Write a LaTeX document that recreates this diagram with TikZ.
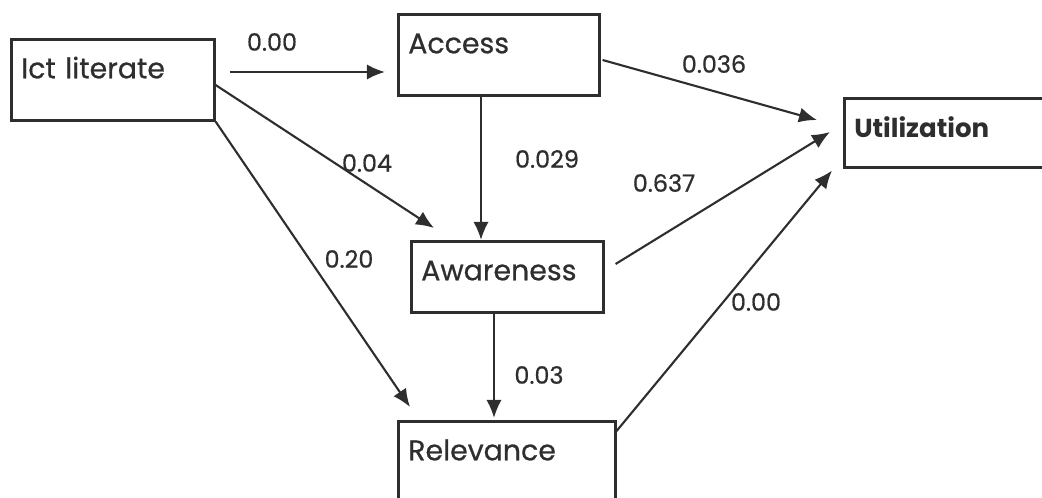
\documentclass[tikz,border=0pt]{standalone}
\usepackage{fontspec}
\setmainfont{Poppins}[FakeBold=0.6]
\newfontfamily\boldface{Poppins Bold}
\usetikzlibrary{arrows.meta,calc}

\tikzset{
  factor/.style={draw, line width=1.8pt, anchor=north west, align=left,
    inner xsep=0.25cm, inner ysep=0pt, text height=0.975cm,
    font=\fontsize{20.2}{23}\selectfont},
  coef/.style={font=\fontsize{17}{20}\selectfont, inner sep=0pt},
  path/.style={->, line width=1.5pt},
}

\begin{document}
\begin{tikzpicture}[>={Latex[length=4.5mm,width=3.8mm]}, x=0.025cm, y=-0.025cm, black!82]
    \useasboundingbox (0,0) rectangle (1042,498);
    \clip (0,0) rectangle (1042,498);
    % boxes
    \node[factor, text width=4.575cm, text depth=1.05cm] (ict) at (10,38) {Ict literate};
    \node[factor, text width=4.525cm, text depth=1.05cm] (access) at (397,13) {Access};
    \node[factor, text width=4.5cm, text depth=0.75cm, font=\fontsize{18.5}{21}\boldface] (util) at (843,97) {Utilization};
    \node[factor, text width=4.3cm, text depth=0.8cm] (aware) at (410,240) {Awareness};
    \node[factor, text width=4.925cm, text depth=1.6cm] (relev) at (397,420) {Relevance};
    % paths
    \draw[path] ($(ict.north east)+(14,34)$) -- ($(access.north west)+(-12,59)$);
    \draw[path] ($(ict.north east)+(0,47)$) -- ($(aware.north west)+(24,-12)$);
    \draw[path] (ict.south east) -- ($(relev.north west)+(13,-13)$);
    \draw[path] ($(access.south west)+(84,0)$) -- ($(aware.north west)+(71,0)$);
    \draw[path] ($(access.north east)+(2,47)$) -- ($(util.north west)+(-26,23)$);
    \draw[path] ($(aware.north east)+(11,24)$) -- ($(util.north west)+(-13,35)$);
    \draw[path] ($(relev.north east)+(0,11)$) -- ($(util.south west)+(-11,2)$);
    \draw[path] ($(aware.south west)+(84,0)$) -- ($(relev.north west)+(97,-2)$);
    % coefficients
    \node[coef] (c1) at (272,42) {0.00};
    \node[coef] (c2) at (367,163) {0.04};
    \node[coef] (c3) at (349,259) {0.20};
    \node[coef] (c4) at (547,159) {0.029};
    \node[coef] (c5) at (714,64) {0.036};
    \node[coef] (c6) at (664,183) {0.637};
    \node[coef] (c7) at (756,302) {0.00};
    \node[coef] (c8) at (539,375) {0.03};
\end{tikzpicture}
\end{document}
